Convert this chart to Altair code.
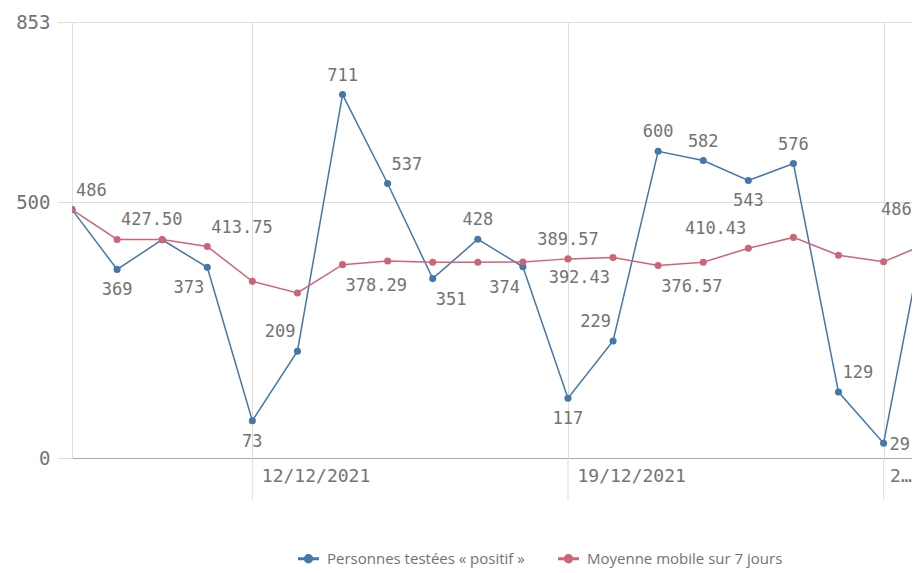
import altair as alt
import pandas as pd

# ---- data ----
dates = ["2021-12-08", "2021-12-09", "2021-12-10", "2021-12-11", "2021-12-12",
         "2021-12-13", "2021-12-14", "2021-12-15", "2021-12-16", "2021-12-17",
         "2021-12-18", "2021-12-19", "2021-12-20", "2021-12-21", "2021-12-22",
         "2021-12-23", "2021-12-24", "2021-12-25", "2021-12-26", "2021-12-27"]

series_names = ["Personnes testées « positif »", "Moyenne mobile sur 7 jours"]

positifs = [486, 369, 427, 373, 73, 209, 711, 537, 351, 428,
            374, 117, 229, 600, 582, 543, 576, 129, 29, 486]

moyenne = [486.00, 427.50, 427.33, 413.75, 345.60, 322.83, 378.29, 385.57, 383.00, 383.14,
           383.29, 389.57, 392.43, 376.57, 383.00, 410.43, 431.57, 396.57, 384.00, 420.71]

# where the value label of each point sits ("" = no label shown)
positifs_label_side = ["above-right", "below", "", "below-left", "below", "above-left", "above",
                       "above-right", "below-right", "above", "below-left", "below", "above-left",
                       "above", "above", "below", "above", "above-right", "right", "left"]
moyenne_label_side = ["", "above-right", "", "above-right", "", "", "below-right", "", "", "",
                      "", "above", "below-left", "below-right", "", "above-left", "", "", "", ""]

tick_dates = ["2021-12-12", "2021-12-19", "2021-12-26"]

y_ticks = [0, 500, 853]

# ---- table ----
rows = []
for d, v, s in zip(dates, positifs, positifs_label_side):
    rows.append({"date": d, "series": series_names[0], "value": v,
                 "label": str(v), "side": s})
for d, v, s in zip(dates, moyenne, moyenne_label_side):
    rows.append({"date": d, "series": series_names[1], "value": v,
                 "label": f"{v:.2f}", "side": s})
df = pd.DataFrame(rows)
ticks_df = pd.DataFrame({"date": tick_dates})

BLUE = "#4477aa"
RED = "#cc6677"
GRID = "#dedede"
TXT = "#737373"
MONO = "DejaVu Sans Mono"

W, H = 840, 436

x_enc = alt.X(
    "date:T",
    title=None,
    scale=alt.Scale(
        type="utc",
        domain=[alt.DateTime(year=2021, month=12, date=8, utc=True),
                alt.DateTime(year=2021, month=12, date=26, hours=15, minutes=7, utc=True)],
    ),
    axis=alt.Axis(
        values=[alt.DateTime(year=2021, month=12, date=12, utc=True),
                alt.DateTime(year=2021, month=12, date=19, utc=True),
                alt.DateTime(year=2021, month=12, date=26, utc=True)],
        labelExpr="utcdate(datum.value) == 26 ? '2…' : utcFormat(datum.value, '%d/%m/%Y')",
        grid=True, gridColor=GRID, gridWidth=1,
        ticks=False, tickSize=0,
        domainColor="#a8a8a8", domainWidth=1,
        labelFont=MONO, labelFontSize=18, labelColor=TXT,
        labelAlign="left", labelBaseline="top",
        labelOffset={"condition": {"test": "utcdate(datum.value) == 26", "value": 6}, "value": 9},
        labelPadding=9,
        labelOverlap=False, labelFlush=False, labelBound=False,
    ),
)

y_enc = alt.Y(
    "value:Q",
    title=None,
    scale=alt.Scale(domain=[0, 853], nice=False, zero=True),
    axis=alt.Axis(
        values=y_ticks, format="d",
        grid=True, gridColor=GRID, gridWidth=1,
        ticks=True, tickSize=15, tickColor=GRID,
        domainColor=GRID,
        labelFont=MONO, labelFontSize=19, labelColor=TXT, labelPadding=7,
    ),
)

# legend glyph: a thick line with a dot on it (drawn with strokes only)
legend_symbol = ("M-1,-0.07H1M-1,0.07H1"
                 "M-0.38,0a0.38,0.38 0 1,0 0.76,0a0.38,0.38 0 1,0 -0.76,0"
                 "M-0.28,0a0.28,0.28 0 1,0 0.56,0a0.28,0.28 0 1,0 -0.56,0"
                 "M-0.18,0a0.18,0.18 0 1,0 0.36,0a0.18,0.18 0 1,0 -0.36,0"
                 "M-0.07,0a0.07,0.07 0 1,0 0.14,0a0.07,0.07 0 1,0 -0.14,0")

color_enc = alt.Color(
    "series:N",
    scale=alt.Scale(domain=series_names, range=[BLUE, RED]),
    legend=alt.Legend(
        title=None, orient="none", direction="horizontal",
        legendX=225, legendY=525,
        symbolType=legend_symbol, symbolSize=441, symbolStrokeWidth=1.5,
        labelFont="Open Sans", labelFontSize=15, labelColor=TXT, labelLimit=500,
        labelOffset=7, columnPadding=30, padding=0,
    ),
)

base = alt.Chart(df)

tick_ext = alt.Chart(ticks_df).mark_rule(color=GRID, strokeWidth=1).encode(
    x=x_enc, y=alt.value(H), y2=alt.value(H + 42)
)

layers = [tick_ext]
for name in series_names:
    sub = base.transform_filter(alt.datum.series == name)
    layers.append(sub.mark_line(strokeWidth=1.5, clip=True).encode(x=x_enc, y=y_enc, color=color_enc))
    layers.append(sub.mark_circle(size=50, opacity=1, clip=True).encode(x=x_enc, y=y_enc, color=color_enc))

placements = {
    "above": ("center", 0, -19),
    "below": ("center", 0, 21),
    "above-right": ("left", 4, -19),
    "above-left": ("right", -2, -19),
    "below-right": ("left", 3, 21),
    "below-left": ("right", -3, 21),
    "right": ("left", 6, 2),
    "left": ("right", -17, 0),
}
for side, (al, dx, dy) in placements.items():
    layers.append(
        base.transform_filter(alt.datum.side == side)
        .mark_text(align=al, dx=dx, dy=dy, baseline="middle",
                   font=MONO, fontSize=17, color=TXT)
        .encode(x=x_enc, y=y_enc, text="label:N")
    )

chart = (
    alt.layer(*layers)
    .properties(
        width=W, height=H,
        padding={"left": 64, "top": 14, "right": 0, "bottom": 111},
        autosize=alt.AutoSizeParams(type="none"),
    )
    .configure_view(stroke="transparent")
)

chart.save("out.html", embed_options={"renderer": "svg", "actions": False})
